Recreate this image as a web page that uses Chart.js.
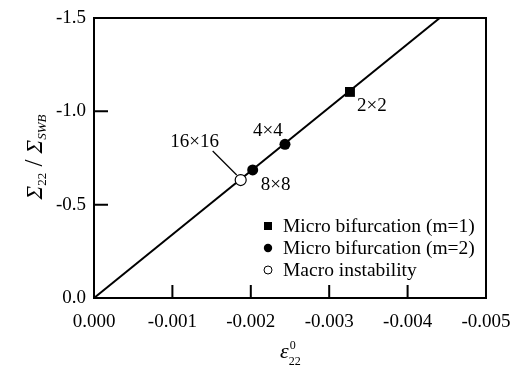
<!DOCTYPE html>
<html>
<head>
<meta charset="utf-8">
<script src="https://cdn.jsdelivr.net/npm/chart.js@4.4.0/dist/chart.umd.min.js"></script>
<style>
  html, body { margin: 0; padding: 0; background: #fff; }
  #wrap { width: 513px; height: 370px; }
</style>
</head>
<body>
<div id="wrap"><canvas id="chart"></canvas></div>
<script>
// fitted response line, origin to where it leaves the frame
const lineStrain = [0, -0.00441];
const lineStress = [0, -1.5];

// onset points by mesh size
const m1Strain = [-0.003265];
const m1Stress = [-1.104];
const m2Strain = [-0.002436, -0.002024];
const m2Stress = [-0.823, -0.686];
const macroStrain = [-0.001871];
const macroStress = [-0.632];

const meshLabels = ['2×2', '4×4', '8×8', '16×16'];
const legendLabels = ['Micro bifurcation (m=1)', 'Micro bifurcation (m=2)', 'Macro instability'];

const xTickValues = [0, -0.001, -0.002, -0.003, -0.004, -0.005];
const xTickLabels = ['0.000', '-0.001', '-0.002', '-0.003', '-0.004', '-0.005'];
const yTickValues = [0, -0.5, -1.0, -1.5];
const yTickLabels = ['0.0', '-0.5', '-1.0', '-1.5'];

const SERIF = "'Liberation Serif', 'Times New Roman', serif";

const toPoints = (xs, ys) => xs.map((v, i) => ({ x: v, y: ys[i] }));

const overlay = {
  id: 'overlay',
  afterDraw(chart) {
    const { ctx, chartArea: a, scales: { x, y } } = chart;
    ctx.save();
    ctx.strokeStyle = '#000';
    ctx.fillStyle = '#000';

    // frame
    ctx.lineWidth = 2;
    ctx.strokeRect(a.left, a.top, a.right - a.left, a.bottom - a.top);

    // inward ticks
    ctx.beginPath();
    x.ticks.forEach(t => {
      const px = x.getPixelForValue(t.value);
      if (px > a.left + 2 && px < a.right - 2) {
        ctx.moveTo(px, a.bottom);
        ctx.lineTo(px, a.bottom - 13);
      }
    });
    y.ticks.forEach(t => {
      const py = y.getPixelForValue(t.value);
      if (py > a.top + 2 && py < a.bottom - 2) {
        ctx.moveTo(a.left, py);
        ctx.lineTo(a.left + 14, py);
      }
    });
    ctx.stroke();

    // mesh labels next to the points
    const px = (xv, yv) => [x.getPixelForValue(xv), y.getPixelForValue(yv)];
    ctx.font = '19px ' + SERIF;
    ctx.textBaseline = 'alphabetic';
    let [p1x, p1y] = px(m1Strain[0], m1Stress[0]);
    ctx.textAlign = 'left';
    ctx.fillText(meshLabels[0], p1x + 7, p1y + 19);
    let [p2x, p2y] = px(m2Strain[0], m2Stress[0]);
    ctx.textAlign = 'center';
    ctx.fillText(meshLabels[1], p2x - 17, p2y - 8);
    let [p3x, p3y] = px(m2Strain[1], m2Stress[1]);
    ctx.textAlign = 'left';
    ctx.fillText(meshLabels[2], p3x + 8, p3y + 20);
    let [p4x, p4y] = px(macroStrain[0], macroStress[0]);
    ctx.textAlign = 'center';
    ctx.fillText(meshLabels[3], p4x - 46, p4y - 33);
    ctx.lineWidth = 1.3;
    ctx.beginPath();
    ctx.moveTo(p4x - 28, p4y - 29);
    ctx.lineTo(p4x - 4, p4y - 5);
    ctx.stroke();

    // legend
    const lx = a.left + 174;
    const rows = [a.bottom - 72, a.bottom - 50, a.bottom - 28];
    ctx.lineWidth = 1;
    ctx.fillRect(lx - 4, rows[0] - 4, 8, 8);
    ctx.beginPath();
    ctx.arc(lx, rows[1], 4.2, 0, Math.PI * 2);
    ctx.fill();
    ctx.beginPath();
    ctx.arc(lx, rows[2], 4, 0, Math.PI * 2);
    ctx.fillStyle = '#fff';
    ctx.fill();
    ctx.stroke();
    ctx.fillStyle = '#000';
    ctx.font = '19.5px ' + SERIF;
    ctx.textAlign = 'left';
    ctx.textBaseline = 'middle';
    legendLabels.forEach((t, i) => ctx.fillText(t, lx + 15, rows[i] + 1));

    // y axis title: Σ22 / ΣSWB
    ctx.save();
    ctx.translate(34, 157);
    ctx.rotate(-Math.PI / 2);
    const parts = [
      { t: 'Σ', f: 'italic 23px ' + SERIF, dy: 0 },
      { t: '22', f: '13px ' + SERIF, dy: 4 },
      { t: ' / ', f: '25px ' + SERIF, dy: 0 },
      { t: 'Σ', f: 'italic 23px ' + SERIF, dy: 0 },
      { t: 'SWB', f: 'italic 13px ' + SERIF, dy: 4 }
    ];
    let total = 0;
    parts.forEach(p => { ctx.font = p.f; p.w = ctx.measureText(p.t).width; total += p.w; });
    let cx = -total / 2;
    ctx.textAlign = 'left';
    ctx.textBaseline = 'alphabetic';
    parts.forEach(p => { ctx.font = p.f; ctx.fillText(p.t, cx, 8 + p.dy); cx += p.w; });
    ctx.restore();

    // x axis title: ε22 with superscript 0
    ctx.textAlign = 'left';
    ctx.textBaseline = 'alphabetic';
    ctx.font = 'italic 22px ' + SERIF;
    const ex = 280;
    ctx.fillText('ε', ex, 358);
    const ew = ctx.measureText('ε').width;
    ctx.font = '12px ' + SERIF;
    ctx.fillText('0', ex + ew + 1, 349);
    ctx.fillText('22', ex + ew, 365);

    ctx.restore();
  }
};

new Chart(document.getElementById('chart'), {
  type: 'scatter',
  data: {
    datasets: [
      {
        label: legendLabels[0],
        data: toPoints(m1Strain, m1Stress),
        pointStyle: 'rect',
        pointRadius: 7,
        backgroundColor: '#000',
        borderColor: '#000',
        borderWidth: 0,
        order: 1
      },
      {
        label: legendLabels[1],
        data: toPoints(m2Strain, m2Stress),
        pointStyle: 'circle',
        pointRadius: 5.5,
        backgroundColor: '#000',
        borderColor: '#000',
        borderWidth: 0,
        order: 1
      },
      {
        label: legendLabels[2],
        data: toPoints(macroStrain, macroStress),
        pointStyle: 'circle',
        pointRadius: 5.5,
        backgroundColor: '#fff',
        borderColor: '#000',
        borderWidth: 1.2,
        order: 1
      },
      {
        type: 'line',
        label: 'response',
        data: toPoints(lineStrain, lineStress),
        borderColor: '#000',
        borderWidth: 2,
        pointRadius: 0,
        fill: false,
        order: 5
      }
    ]
  },
  options: {
    responsive: true,
    maintainAspectRatio: false,
    animation: false,
    layout: { padding: { left: 0, right: 27, top: 18, bottom: 0 } },
    plugins: {
      legend: { display: false },
      tooltip: { enabled: false }
    },
    scales: {
      x: {
        type: 'linear',
        min: -0.005,
        max: 0,
        reverse: true,
        grid: { display: false, drawTicks: false },
        border: { display: false },
        afterBuildTicks: s => { s.ticks = xTickValues.map(v => ({ value: v })); },
        afterFit: s => { s.height = 72; s.paddingLeft = 0; s.paddingRight = 0; },
        ticks: {
          autoSkip: false,
          maxRotation: 0,
          padding: 13,
          color: '#000',
          font: { family: SERIF, size: 19 },
          callback: (v, i) => xTickLabels[xTickValues.indexOf(v)] ?? ''
        }
      },
      y: {
        type: 'linear',
        min: -1.5,
        max: 0,
        reverse: true,
        grid: { display: false, drawTicks: false },
        border: { display: false },
        afterBuildTicks: s => { s.ticks = yTickValues.map(v => ({ value: v })); },
        afterFit: s => { s.width = 94; s.paddingTop = 0; s.paddingBottom = 0; },
        ticks: {
          autoSkip: false,
          padding: 8,
          color: '#000',
          font: { family: SERIF, size: 19 },
          callback: (v, i) => yTickLabels[yTickValues.indexOf(v)] ?? ''
        }
      }
    }
  },
  plugins: [overlay]
});
</script>
</body>
</html>
